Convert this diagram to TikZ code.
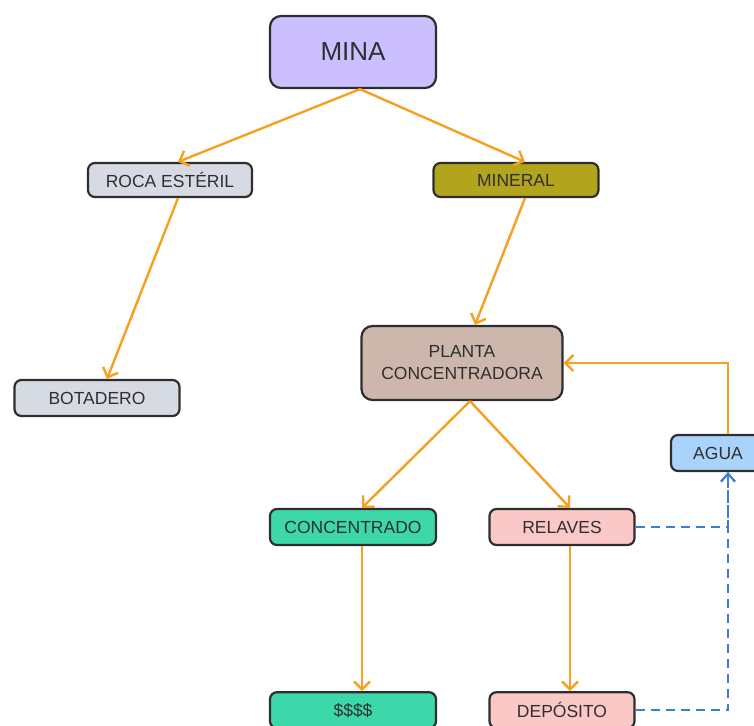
\documentclass[tikz,border=0pt]{standalone}
\usepackage{fontspec}
\setmainfont{Liberation Sans}
\usepackage{tikz}
\usetikzlibrary{arrows.meta,positioning,calc}
\definecolor{boxline}{HTML}{2E2E2E}
\definecolor{labelgray}{HTML}{2F2F2F}
\definecolor{minafill}{HTML}{CBBFFF}
\definecolor{rocafill}{HTML}{D6DAE2}
\definecolor{mineralfill}{HTML}{B3A41E}
\definecolor{plantafill}{HTML}{CDB6AC}
\definecolor{aguafill}{HTML}{A9D3FB}
\definecolor{concfill}{HTML}{3DD8AA}
\definecolor{relfill}{HTML}{FBC8C8}
\definecolor{floworange}{HTML}{F7A01F}
\definecolor{waterblue}{HTML}{3B80CF}
\tikzstyle{box}   = [draw=boxline, line width=2.2pt, rounded corners=7pt, text=labelgray,
                     font=\fontsize{17.5}{22}\selectfont, minimum height=36pt, inner sep=2pt, align=center]
\tikzstyle{flow}  = [draw=floworange, line width=2.4pt, -{Straight Barb[length=8pt,width=16pt]}]
\tikzstyle{back}  = [draw=waterblue, line width=2pt, dash pattern=on 9pt off 6pt,
                     -{Straight Barb[length=8pt,width=14pt]}]

\begin{document}
\begin{tikzpicture}[x=1pt,y=-1pt]
        \useasboundingbox (0,0) rectangle (754,725);
        % top of the tree
        \node[box, fill=minafill, minimum width=166pt, minimum height=72pt, rounded corners=11pt,
              font=\fontsize{26}{30}\selectfont] (mina) at (353,52) {MINA};
        \node[box, fill=rocafill, minimum width=164pt, minimum height=34pt] (roca) at (170,180) {ROCA EST\'ERIL};
        \node[box, fill=mineralfill, minimum width=165pt, minimum height=34pt] (mineral) at (516,180) {MINERAL};
        \node[box, fill=rocafill, minimum width=165pt] (botadero) at (97,398) {BOTADERO};
        \node[box, fill=plantafill, minimum width=201pt, minimum height=74pt, rounded corners=11pt] (planta) at (462,363) {PLANTA\\CONCENTRADORA};
        \node[box, fill=aguafill, minimum width=94pt] (agua) at (718,453) {AGUA};
        % products
        \node[box, fill=concfill, minimum width=166pt] (conc) at (353,527) {CONCENTRADO};
        \node[box, fill=relfill, minimum width=145pt] (relaves) at (562,527) {RELAVES};
        \node[box, fill=concfill, minimum width=166pt, below=145pt of conc] (plata) {\$\$\$\$};
        \node[box, fill=relfill, minimum width=145pt, below=145pt of relaves] (deposito) {DEP\'OSITO};

        \coordinate (aguaT) at ($(agua.north)+(10,0)$);
        \coordinate (aguaB) at ($(agua.south)+(10,0)$);

        \draw[flow] ($(mina.south)+(7,0)$) -- ($(roca.north)+(8,0)$);
        \draw[flow] ($(mina.south)+(7,0)$) -- ($(mineral.north)+(9,0)$);
        \draw[flow] ($(roca.south)+(8,0)$) -- ($(botadero.north)+(10,0)$);
        \draw[flow] ($(mineral.south)+(9,0)$) -- ($(planta.north)+(13,0)$);
        \draw[flow] ($(planta.south)+(8,0)$) -- ($(conc.north)+(9,0)$);
        \draw[flow] ($(planta.south)+(8,0)$) -- ($(relaves.north)+(8,0)$);
        \draw[flow] ($(conc.south)+(9,0)$) -- ($(plata.north)+(9,0)$);
        \draw[flow] ($(relaves.south)+(8,0)$) -- ($(deposito.north)+(8,0)$);
        \draw[flow] (aguaT) |- (planta.east);

        \draw[back] (relaves.east) -| (aguaB);
        \draw[back] (deposito.east) -| (aguaB);
\end{tikzpicture}
\end{document}
